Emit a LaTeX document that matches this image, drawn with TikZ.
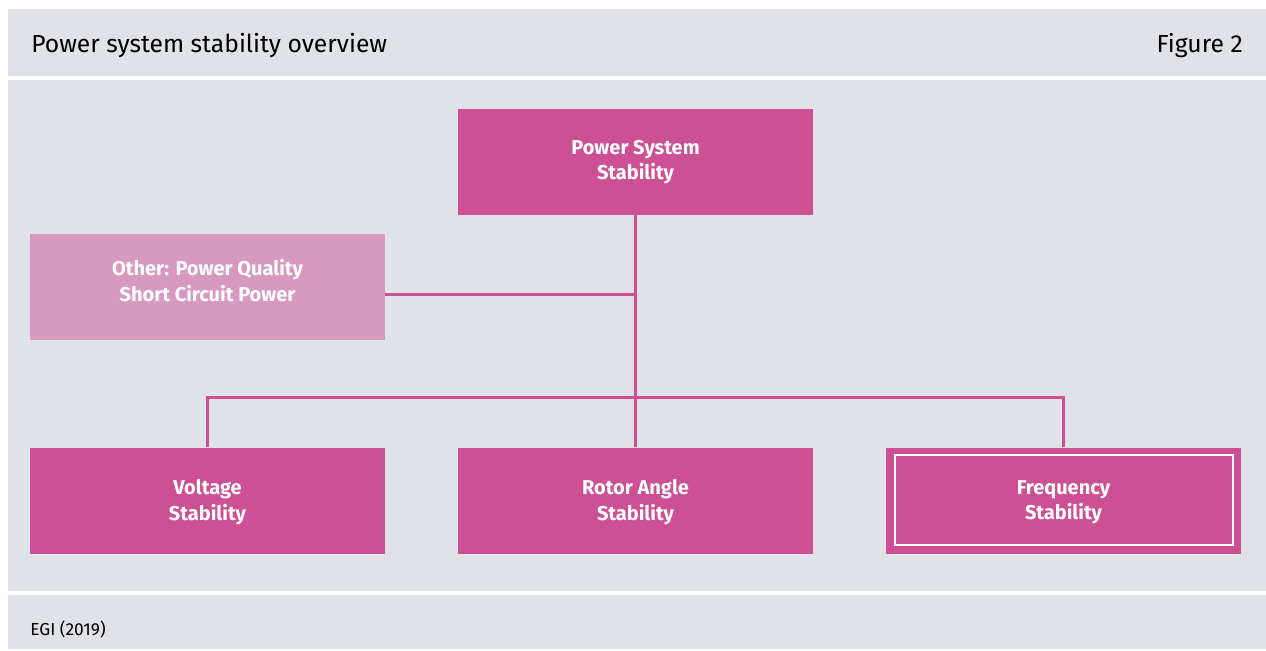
\documentclass[tikz,border=0pt]{standalone}
\usepackage{fontspec}
\setmainfont{Fira Sans}
\usepackage{xcolor}
\definecolor{panel}{HTML}{E1E2E7}
\definecolor{magenta}{HTML}{CD5094}
\definecolor{lightmagenta}{HTML}{D899C0}

\begin{document}
\begin{tikzpicture}[x=0.75pt,y=-0.75pt,
  box/.style={fill=magenta, text=white, font=\bfseries\fontsize{15}{19}\selectfont,
    align=center, inner sep=0pt, minimum width=266.25pt, minimum height=79.5pt},
  boxtext/.style={text=white, font=\bfseries\fontsize{15}{19}\selectfont, align=center, inner sep=0pt},
  link/.style={magenta, line width=2.25pt}]
  \useasboundingbox (0,0) rectangle (1266,650);
  % background bands
  \fill[white] (0,0) rectangle (1266,650);
  \fill[panel] (8,9) rectangle (1266,76);
  \fill[panel] (8,80) rectangle (1266,591);
  \fill[panel] (8,595) rectangle (1266,649);
  \node[anchor=base west, inner sep=0pt, font=\fontsize{18.5}{22}\selectfont] (title) at (31,52) {Power system stability overview};
  \node[anchor=base east, inner sep=0pt, font=\fontsize{18.5}{22}\selectfont] (fig) at (1243,52) {Figure 2};
  \node[anchor=base west, inner sep=0pt, font=\fontsize{13}{16}\selectfont] (src) at (30,635) {EGI (2019)};
  % boxes
  \node[box] (pss) at (635.5,162) {Power System\\Stability};
  \node[box, fill=lightmagenta] (other) at (207.5,286.5) {};
  \node[boxtext] (othertext) at ([shift={(0,-6)}]other.center) {Other: Power Quality\\Short Circuit Power};
  \node[box] (volt) at (207.5,500.5) {};
  \node[box] (rotor) at (635.5,500.5) {};
  \node[box] (freq) at (1063.5,500.5) {};
  \node[boxtext] (volttext) at ([shift={(0,1.5)}]volt.center) {Voltage\\Stability};
  \node[boxtext] (rotortext) at ([shift={(0,1.5)}]rotor.center) {Rotor Angle\\Stability};
  \node[boxtext] (freqtext) at ([shift={(0,1.5)}]freq.center) {Frequency\\Stability};
  \draw[white, line width=1.5pt] ([shift={(9,8)}]freq.north west) rectangle ([shift={(-8.5,-8.5)}]freq.south east);
  % connectors
  \coordinate (bus) at (635.5,397);
  \coordinate (tap) at (635.5,294);
  \draw[link] (pss.south) -- (rotor.north);
  \draw[link] (other.east |- tap) -- (tap);
  \draw[link] (volt.north) |- (bus) -| (freq.north);
\end{tikzpicture}
\end{document}
